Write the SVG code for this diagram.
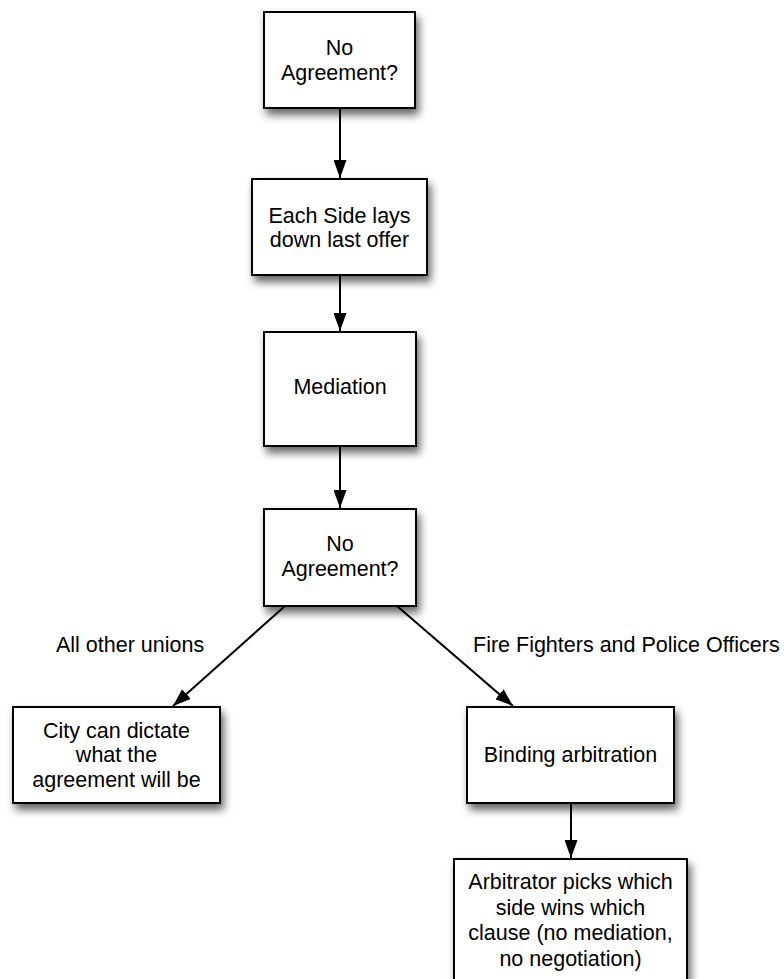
<svg xmlns="http://www.w3.org/2000/svg" width="784" height="979" viewBox="0 0 784 979">
<style>
.box{fill:#fff;stroke:#000;stroke-width:2;filter:url(#sh)}
.t{font-family:"Liberation Sans",Arial,sans-serif;font-size:21.5px;fill:#000;text-anchor:middle}
.lbl{font-family:"Liberation Sans",Arial,sans-serif;font-size:21.5px;fill:#000}
.c{stroke:#000;stroke-width:2;fill:none;marker-end:url(#ah)}
</style>
<defs>
<filter id="sh" x="-20%" y="-20%" width="150%" height="160%">
<feDropShadow dx="3" dy="6" stdDeviation="4" flood-color="#000" flood-opacity="0.6"/>
</filter>
<marker id="ah" markerUnits="userSpaceOnUse" markerWidth="18" markerHeight="13" refX="18" refY="6.5" orient="auto">
<path d="M0,0 L18,6.5 L0,13 z" fill="#000"/>
</marker>
</defs>
<rect width="784" height="979" fill="#fff"/>
<g id="connectors">
<line class="c" x1="340" y1="108" x2="340" y2="178"/>
<line class="c" x1="340" y1="275" x2="340" y2="331"/>
<line class="c" x1="340" y1="446" x2="340" y2="508"/>
<line class="c" x1="285" y1="606" x2="173" y2="706"/>
<line class="c" x1="397" y1="606" x2="513" y2="706"/>
<line class="c" x1="571" y1="803" x2="571" y2="858"/>
<text class="lbl" x="56" y="652">All other unions</text>
<text class="lbl" x="473" y="652">Fire Fighters and Police Officers</text>
</g>
<g id="n1">
<rect class="box" x="264" y="12" width="151" height="96"/>
<text class="t" x="339.5" y="55">No</text>
<text class="t" x="339.5" y="80">Agreement?</text>
</g>
<g id="n2">
<rect class="box" x="252" y="179" width="175" height="96"/>
<text class="t" x="339.5" y="223">Each Side lays</text>
<text class="t" x="339.5" y="247">down last offer</text>
</g>
<g id="n3">
<rect class="box" x="264" y="332" width="152" height="114"/>
<text class="t" x="340" y="394">Mediation</text>
</g>
<g id="n4">
<rect class="box" x="264" y="509" width="152" height="97"/>
<text class="t" x="340" y="551">No</text>
<text class="t" x="340" y="576">Agreement?</text>
</g>
<g id="n5">
<rect class="box" x="13" y="707" width="207" height="96"/>
<text class="t" x="116.5" y="738">City can dictate</text>
<text class="t" x="116.5" y="762">what the</text>
<text class="t" x="116.5" y="787">agreement will be</text>
</g>
<g id="n6">
<rect class="box" x="467" y="707" width="207" height="96"/>
<text class="t" x="570.5" y="762">Binding arbitration</text>
</g>
<g id="n7">
<rect class="box" x="454" y="859" width="233" height="135"/>
<text class="t" x="570.5" y="889">Arbitrator picks which</text>
<text class="t" x="570.5" y="915">side wins which</text>
<text class="t" x="570.5" y="940">clause (no mediation,</text>
<text class="t" x="570.5" y="966">no negotiation)</text>
</g>
</svg>
